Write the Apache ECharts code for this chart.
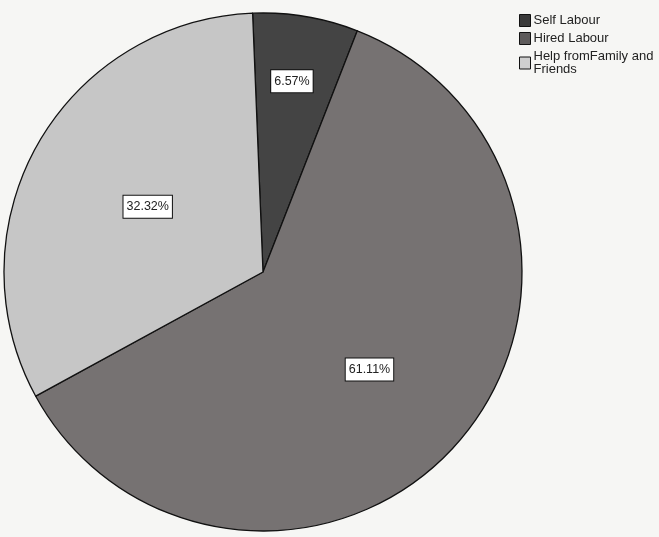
<!DOCTYPE html>
<html>
<head>
<meta charset="utf-8">
<script src="https://cdn.jsdelivr.net/npm/echarts@6/dist/echarts.min.js"></script>
<style>
  html, body { margin: 0; padding: 0; background: #f6f6f4; }
  #chart { width: 659px; height: 537px; }
</style>
</head>
<body>
<div id="chart"></div>
<script>
// Sources of labour, share of respondents (%)
const categories = ['Self Labour', 'Hired Labour', 'Help fromFamily and\nFriends'];
const shares = [6.57, 61.11, 32.32];
const sliceColors = ['#444444', '#767272', '#c6c6c6'];
const legendColors = ['#3a3a3a', '#5e5b5b', '#cfcfcf'];

const chart = echarts.init(document.getElementById('chart'), null, { renderer: 'canvas' });

const pieData = categories.map((name, i) => ({
  name: name,
  value: shares[i],
  itemStyle: { color: sliceColors[i] }
}));
// the small slice carries its label further out toward the rim
pieData[0].label = { offset: [7, -60] };
pieData[1].label = { offset: [7, 10] };

chart.setOption({
  backgroundColor: '#f6f6f4',
  animation: false,
  legend: {
    orient: 'vertical',
    left: 514,
    top: 9,
    itemWidth: 11,
    itemHeight: 12,
    itemGap: 5,
    icon: 'rect',
    data: categories.map((name, i) => ({
      name: name,
      itemStyle: { color: legendColors[i], borderColor: '#111', borderWidth: 1 }
    })),
    textStyle: {
      fontFamily: 'Liberation Sans, Arial, sans-serif',
      fontSize: 13,
      color: '#222',
      lineHeight: 13,
      padding: [0, 0, 0, -2]
    }
  },
  series: [{
    type: 'pie',
    center: [263, 272],
    radius: 259,
    startAngle: 92.3,
    clockwise: true,
    itemStyle: { borderColor: '#111', borderWidth: 1.3 },
    label: {
      show: true,
      position: 'inside',
      formatter: p => p.value.toFixed(2) + '%',
      fontFamily: 'Liberation Sans, Arial, sans-serif',
      fontSize: 12.5,
      color: '#222',
      backgroundColor: '#ffffff',
      borderColor: '#111',
      borderWidth: 1,
      padding: [5, 3, 4, 3]
    },
    labelLine: { show: false },
    emphasis: { disabled: true },
    data: pieData
  }]
});
</script>
</body>
</html>
